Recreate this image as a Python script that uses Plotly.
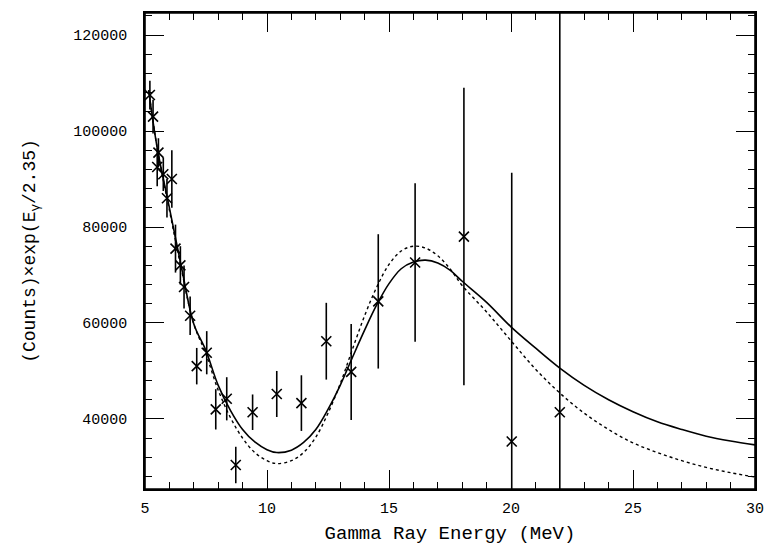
import plotly.graph_objects as go

# Measured points (Gamma energy in MeV, counts x exp(E/2.35), symmetric error)
energy = [5.2, 5.33, 5.5, 5.55, 5.75, 5.9, 6.1, 6.25, 6.45, 6.6, 6.85, 7.12, 7.53,
          7.9, 8.35, 8.72, 9.41, 10.4, 11.41, 12.43, 13.45, 14.56, 16.07, 18.07,
          20.03, 22.0]
counts = [107500, 103000, 92500, 95500, 91000, 86000, 90000, 75500, 72000, 67500,
          61500, 51000, 53800, 42000, 44200, 30400, 41400, 45200, 43300, 56200,
          49800, 64500, 72600, 78000, 35300, 41400]
errors = [3000, 3500, 4000, 3000, 3500, 4000, 6000, 5000, 4000, 4500, 4000, 3800,
          4500, 4200, 4500, 3800, 3700, 4800, 5800, 8000, 10000, 14000, 16500,
          31000, 56000, 85000]

# Fit curves
fit_x = [5.15, 5.5, 6.0, 6.5, 7.0, 7.5, 8.0, 8.5, 9.0, 9.5, 10.0, 10.4, 11.0, 11.5,
         12.0, 12.5, 13.0, 13.5, 14.0, 14.5, 15.0, 15.5, 16.0, 16.5, 17.0, 17.5,
         18.0, 19.0, 20.0, 21.0, 22.0, 23.0, 24.0, 25.0, 26.0, 27.0, 28.0, 29.0, 30.0]
fit_solid = [108500, 96500, 84000, 71500, 59800, 54200, 47000, 41800, 37800, 35200,
             33600, 33000, 33500, 35100, 37800, 42000, 47000, 52800, 58500, 63800,
             68200, 71300, 72700, 73100, 72500, 71000, 68700, 64300, 59200, 54800,
             50600, 47000, 44000, 41500, 39400, 37800, 36400, 35400, 34600]
fit_dotted = [108500, 96500, 83500, 71000, 59800, 53500, 46000, 40300, 36000, 33000,
              31300, 30700, 31300, 33000, 36200, 41200, 47300, 54500, 61500, 67500,
              72200, 75000, 76000, 75600, 74000, 71300, 67800, 62300, 56300, 50400,
              45400, 41200, 37800, 35000, 33000, 31300, 29900, 28800, 27900]

x_ticks = [5, 10, 15, 20, 25, 30]
y_ticks = [40000, 60000, 80000, 100000, 120000]
y_range = [25400, 124600]

FONT = "Liberation Mono"

fig = go.Figure()
fig.add_trace(go.Scatter(x=fit_x, y=fit_solid, mode="lines", line_shape="spline",
                         line=dict(color="black", width=1.6), showlegend=False))
fig.add_trace(go.Scatter(x=fit_x, y=fit_dotted, mode="lines", line_shape="spline",
                         line=dict(color="black", width=1.4, dash="dot"), showlegend=False))
fig.add_trace(go.Scatter(
    x=energy, y=counts, mode="markers", showlegend=False,
    marker=dict(symbol="x-thin", size=10, line=dict(color="black", width=1.6), color="black"),
    error_y=dict(type="data", array=errors, visible=True, color="black", thickness=1.6, width=0),
))

axis_common = dict(
    showgrid=False, zeroline=False, showline=True, linecolor="black", linewidth=1.6,
    mirror="ticks", ticks="inside", ticklen=19, tickwidth=1.2, tickcolor="black",
    tickfont=dict(family=FONT, size=15, color="black"),
)

fig.update_xaxes(
    range=[5, 30], tickvals=x_ticks, ticktext=[str(v) for v in x_ticks],
    ticklabeloverflow="allow",
    minor=dict(ticks="inside", ticklen=7, dtick=1, tickwidth=1, tickcolor="black"),
    ticklabelstandoff=4,
    title=dict(text="Gamma Ray Energy (MeV)", font=dict(family=FONT, size=19, color="black"),
               standoff=12),
    automargin=False, **axis_common,
)
fig.update_yaxes(
    range=y_range, tickvals=y_ticks, ticktext=[str(v) for v in y_ticks],
    minor=dict(ticks="inside", ticklen=7, dtick=4000, tickwidth=1, tickcolor="black"),
    ticklabelstandoff=13,
    title=dict(text="(Counts)×exp(E<sub>γ</sub>/2.35)",
               font=dict(family=FONT, size=18, color="black"), standoff=33),
    automargin=False, **axis_common,
)

fig.add_shape(type="rect", xref="paper", yref="paper", x0=0, x1=1, y0=0, y1=1,
              line=dict(color="black", width=1.6))

fig.update_layout(
    width=764, height=537,
    margin=dict(l=137, r=17, t=5, b=56),
    plot_bgcolor="white", paper_bgcolor="white",
)

fig.write_html("out.html")
